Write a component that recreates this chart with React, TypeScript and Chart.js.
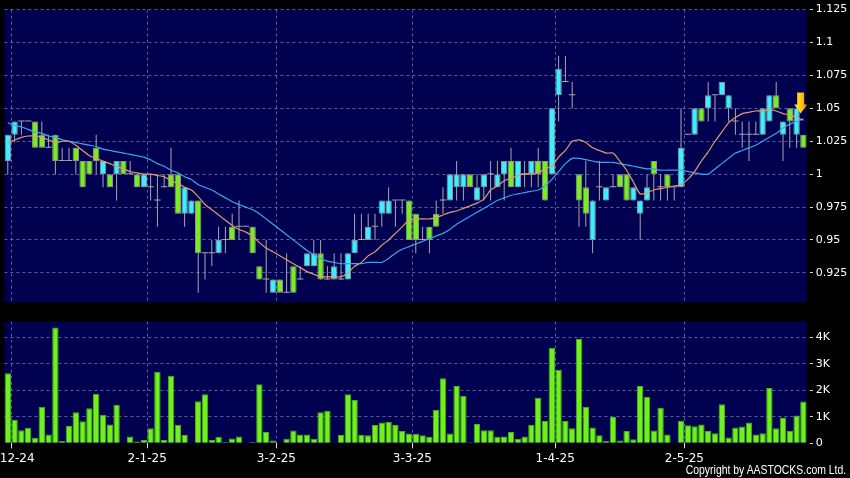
import React, { useEffect, useRef } from 'react';
import { Chart, registerables } from 'chart.js';

Chart.register(...registerables);

// ---------- data ----------
const dates = [
  '29-11-24',
  '2-12-24', '3-12-24', '4-12-24', '5-12-24', '6-12-24', '9-12-24', '10-12-24', '11-12-24', '12-12-24', '13-12-24',
  '16-12-24', '17-12-24', '18-12-24', '19-12-24', '20-12-24', '23-12-24', '24-12-24', '27-12-24', '30-12-24', '31-12-24',
  '2-1-25', '3-1-25', '6-1-25', '7-1-25', '8-1-25', '9-1-25', '10-1-25', '13-1-25', '14-1-25', '15-1-25',
  '16-1-25', '17-1-25', '20-1-25', '21-1-25', '22-1-25', '23-1-25', '24-1-25', '27-1-25', '28-1-25',
  '3-2-25', '4-2-25', '5-2-25', '6-2-25', '7-2-25', '10-2-25', '11-2-25', '12-2-25', '13-2-25', '14-2-25',
  '17-2-25', '18-2-25', '19-2-25', '20-2-25', '21-2-25', '24-2-25', '25-2-25', '26-2-25', '27-2-25', '28-2-25',
  '3-3-25', '4-3-25', '5-3-25', '6-3-25', '7-3-25', '10-3-25', '11-3-25', '12-3-25', '13-3-25', '14-3-25',
  '17-3-25', '18-3-25', '19-3-25', '20-3-25', '21-3-25', '24-3-25', '25-3-25', '26-3-25', '27-3-25', '28-3-25', '31-3-25',
  '1-4-25', '2-4-25', '3-4-25', '7-4-25', '8-4-25', '9-4-25', '10-4-25', '11-4-25', '14-4-25', '15-4-25',
  '16-4-25', '17-4-25', '22-4-25', '23-4-25', '24-4-25', '25-4-25', '28-4-25', '29-4-25', '30-4-25',
  '2-5-25', '6-5-25', '7-5-25', '8-5-25', '9-5-25', '12-5-25', '13-5-25', '14-5-25', '15-5-25', '16-5-25',
  '19-5-25', '20-5-25', '21-5-25', '22-5-25', '23-5-25', '26-5-25', '27-5-25', '28-5-25',
];

const opens = [
  1.01, 1.03, 1.04, 1.04, 1.04, 1.03, 1.02, 1.03, 1.01, 1.01,
  1.02, 1.01, 1.01, 1.02, 1.00, 1.00, 1.00, 1.01, 1.00, 1.00,
  0.99, 0.99, 0.98, 0.99, 1.00, 1.00, 0.97, 0.97, 0.98, 0.94,
  0.94, 0.94, 0.95, 0.96, 0.96, 0.96, 0.96, 0.93, 0.92, 0.91,
  0.92, 0.91, 0.93, 0.92, 0.93, 0.93, 0.94, 0.92, 0.92, 0.92,
  0.92, 0.94, 0.95, 0.95, 0.96, 0.97, 0.97, 0.98, 0.98, 0.98,
  0.97, 0.95, 0.96, 0.97, 0.98, 0.98, 0.99, 0.99, 1.00, 0.98,
  0.99, 1.00, 0.99, 1.00, 1.01, 0.99, 1.00, 1.00, 1.01, 1.01,
  1.00, 1.06, 1.07, 1.06, 1.00, 0.99, 0.95, 0.99, 0.98, 0.99,
  1.00, 1.00, 0.98, 0.97, 0.98, 1.01, 0.99, 1.00, 0.99, 0.99,
  1.03, 1.03, 1.05, 1.05, 1.06, 1.06, 1.05, 1.04, 1.03, 1.03,
  1.03, 1.03, 1.04, 1.06, 1.03, 1.05, 1.03, 1.03,
];

const highs = [
  1.03, 1.04, 1.04, 1.04, 1.04, 1.04, 1.03, 1.03, 1.02, 1.02,
  1.02, 1.01, 1.01, 1.03, 1.01, 1.00, 1.01, 1.01, 1.01, 1.00,
  1.00, 1.00, 1.00, 1.00, 1.02, 1.00, 0.99, 0.98, 0.98, 0.94,
  0.95, 0.96, 0.96, 0.97, 0.98, 0.96, 0.96, 0.93, 0.95, 0.92,
  0.92, 0.94, 0.93, 0.93, 0.94, 0.95, 0.95, 0.93, 0.94, 0.94,
  0.94, 0.97, 0.97, 0.97, 0.97, 0.98, 0.99, 0.98, 0.98, 0.98,
  0.97, 0.96, 0.96, 0.98, 0.99, 1.00, 1.01, 1.00, 1.00, 1.00,
  1.00, 1.01, 1.01, 1.01, 1.02, 1.01, 1.01, 1.01, 1.02, 1.01,
  1.05, 1.09, 1.09, 1.07, 1.00, 1.01, 0.98, 1.01, 0.99, 1.00,
  1.00, 1.00, 0.99, 0.98, 1.00, 1.01, 1.00, 1.00, 0.99, 1.05,
  1.03, 1.05, 1.05, 1.07, 1.06, 1.07, 1.06, 1.05, 1.04, 1.04,
  1.04, 1.05, 1.06, 1.07, 1.04, 1.05, 1.05, 1.03,
];

const lows = [
  1.00, 1.024, 1.03, 1.04, 1.02, 1.02, 1.02, 1.00, 1.01, 1.01,
  1.00, 0.99, 1.00, 1.00, 0.99, 0.99, 0.98, 1.00, 1.00, 0.99,
  0.99, 0.98, 0.96, 0.99, 0.99, 0.97, 0.96, 0.97, 0.91, 0.92,
  0.93, 0.94, 0.94, 0.95, 0.95, 0.96, 0.94, 0.92, 0.91, 0.91,
  0.91, 0.91, 0.91, 0.92, 0.93, 0.93, 0.92, 0.92, 0.92, 0.92,
  0.92, 0.94, 0.95, 0.95, 0.95, 0.96, 0.97, 0.96, 0.97, 0.95,
  0.94, 0.95, 0.94, 0.96, 0.97, 0.98, 0.98, 0.98, 0.99, 0.98,
  0.98, 0.98, 0.99, 0.98, 0.99, 0.99, 0.99, 0.99, 0.99, 0.98,
  1.00, 1.04, 1.07, 1.05, 0.96, 0.96, 0.94, 0.98, 0.98, 0.99,
  0.99, 0.98, 0.98, 0.95, 0.98, 0.98, 0.98, 0.98, 0.98, 0.99,
  1.03, 1.03, 1.04, 1.04, 1.04, 1.06, 1.04, 1.03, 1.02, 1.01,
  1.03, 1.03, 1.04, 1.05, 1.01, 1.02, 1.02, 1.02,
];

const closes = [
  1.03, 1.04, 1.04, 1.04, 1.02, 1.02, 1.02, 1.01, 1.01, 1.01,
  1.01, 0.99, 1.00, 1.01, 1.01, 0.99, 1.01, 1.00, 1.00, 0.99,
  1.00, 0.99, 0.98, 0.99, 0.99, 0.97, 0.99, 0.98, 0.94, 0.94,
  0.94, 0.95, 0.95, 0.95, 0.96, 0.96, 0.94, 0.92, 0.92, 0.92,
  0.91, 0.91, 0.91, 0.92, 0.94, 0.94, 0.92, 0.92, 0.93, 0.92,
  0.94, 0.95, 0.95, 0.96, 0.96, 0.98, 0.98, 0.98, 0.98, 0.95,
  0.95, 0.95, 0.95, 0.96, 0.98, 1.00, 1.00, 1.00, 0.99, 0.99,
  1.00, 1.00, 1.00, 1.01, 0.99, 1.01, 1.00, 1.01, 1.00, 0.98,
  1.05, 1.08, 1.07, 1.06, 0.98, 0.97, 0.98, 0.99, 0.99, 0.99,
  0.99, 0.98, 0.99, 0.98, 0.99, 1.00, 0.99, 0.99, 0.99, 1.02,
  1.03, 1.05, 1.04, 1.06, 1.06, 1.07, 1.06, 1.04, 1.03, 1.03,
  1.03, 1.05, 1.06, 1.05, 1.04, 1.04, 1.05, 1.02,
];

// short moving average (orange)
const maShort = [
  1.024, 1.026, 1.028, 1.029, 1.029, 1.028, 1.026, 1.024, 1.025, 1.025,
  1.022, 1.018, 1.014, 1.012, 1.010, 1.008, 1.006, 1.004, 1.002, 1.001,
  1.000, 1.000, 0.999, 0.998, 0.995, 0.993, 0.990, 0.988, 0.983, 0.977,
  0.973, 0.969, 0.965, 0.961, 0.958, 0.956, 0.953, 0.948, 0.944, 0.941,
  0.938, 0.935, 0.932, 0.929, 0.926, 0.924, 0.922, 0.922, 0.922, 0.922,
  0.925, 0.930, 0.933, 0.938, 0.941, 0.946, 0.950, 0.955, 0.960, 0.965,
  0.966, 0.966, 0.966, 0.967, 0.969, 0.971, 0.972, 0.974, 0.976, 0.978,
  0.981, 0.988, 0.991, 0.995, 0.997, 0.999, 1.000, 1.000, 1.001, 1.004,
  1.006, 1.013, 1.018, 1.025, 1.026, 1.024, 1.020, 1.018, 1.016, 1.016,
  1.010, 1.003, 0.994, 0.985, 0.986, 0.988, 0.989, 0.990, 0.991, 0.992,
  0.996, 1.002, 1.010, 1.017, 1.025, 1.032, 1.039, 1.043, 1.046, 1.047,
  1.048, 1.048, 1.049, 1.048, 1.046, 1.045, 1.043, 1.041,
];

// long moving average (blue)
const maLong = [
  1.039, 1.037, 1.036, 1.034, 1.032, 1.031, 1.029, 1.028, 1.026, 1.025,
  1.024, 1.023, 1.022, 1.021, 1.019, 1.018, 1.017, 1.016, 1.015, 1.014,
  1.013, 1.011, 1.008, 1.006, 1.003, 1.001, 0.998, 0.996, 0.992, 0.990,
  0.988, 0.985, 0.982, 0.979, 0.977, 0.975, 0.973, 0.970, 0.966, 0.962,
  0.958, 0.954, 0.950, 0.946, 0.942, 0.939, 0.936, 0.934, 0.933, 0.932,
  0.932, 0.932, 0.932, 0.933, 0.933, 0.933, 0.936, 0.940, 0.943, 0.945,
  0.947, 0.949, 0.951, 0.953, 0.955, 0.958, 0.962, 0.965, 0.968, 0.971,
  0.974, 0.977, 0.980, 0.982, 0.984, 0.985, 0.986, 0.987, 0.988, 0.991,
  0.996, 1.002, 1.008, 1.012, 1.012, 1.011, 1.010, 1.009, 1.009, 1.009,
  1.008, 1.007, 1.006, 1.005, 1.004, 1.004, 1.003, 1.003, 1.003, 1.003,
  1.002, 1.001, 1.000, 1.000, 1.004, 1.008, 1.012, 1.016, 1.018, 1.020,
  1.022, 1.025, 1.028, 1.031, 1.035, 1.038, 1.040, 1.042,
];

const volumes = [
  2640, 890, 490, 590, 210, 1380, 330, 4370, 90, 650,
  1170, 830, 1320, 1870, 1080, 710, 1450, 20, 260, 70,
  120, 570, 2700, 120, 2550, 700, 310, 20, 1590, 1850,
  120, 250, 50, 180, 260, 0, 50, 2230, 430, 110,
  20, 170, 480, 330, 330, 170, 1170, 1230, 20, 310,
  1850, 1630, 320, 300, 690, 780, 800, 700, 460, 370,
  360, 300, 250, 1260, 2450, 370, 2160, 1790, 40, 730,
  490, 490, 250, 260, 430, 160, 260, 700, 1720, 840,
  3600, 2770, 840, 570, 3930, 1370, 600, 300, 90, 990,
  110, 460, 150, 2160, 1760, 480, 1340, 330, 0, 850,
  680, 640, 710, 460, 380, 1470, 220, 600, 630, 780,
  330, 380, 2090, 570, 970, 460, 1050, 1580,
];

const axisDates = ['2-12-24', '2-1-25', '3-2-25', '3-3-25', '1-4-25', '2-5-25'];
const priceTicks = [0.925, 0.95, 0.975, 1, 1.025, 1.05, 1.075, 1.1, 1.125];
const priceTickLabels = ['0.925', '0.95', '0.975', '1', '1.025', '1.05', '1.075', '1.1', '1.125'];
const priceRange = [0.9026, 1.125];
const volumeTicks = [0, 1000, 2000, 3000, 4000];
const volumeTickLabels = ['0', '1K', '2K', '3K', '4K'];
const volumeRange = [0, 4590];
const signalIndex = [116.6];
const signalPrice = [1.046];

// ---------- styles ----------
const NAVY = '#000050';
const GRID = 'rgba(125,125,185,0.75)';
const CYAN = '#3cefff';
const GREEN = '#78ee1e';
const CANDLE_BORDER = '#929292';
const WICK = '#a8a8a8';
const ORANGE = '#e59a6c';
const BLUE = '#3aa6ee';
const VOL_FILL = '#6ff21c';
const VOL_BORDER = '#4aac16';
const FONT = '"DejaVu Sans", "Liberation Sans", sans-serif';
const W = 850;
const PRICE_H = 312;
const VOL_TOP = 312;
const VOL_H = 166;

const bgPlugin = {
  id: 'navyBg',
  beforeDraw(chart: any) {
    const { ctx, chartArea: a } = chart;
    ctx.save();
    ctx.fillStyle = NAVY;
    ctx.fillRect(a.left, a.top, a.right - a.left, a.bottom - a.top);
    ctx.restore();
  },
};

const arrowPlugin = {
  id: 'signalArrow',
  afterDatasetsDraw(chart: any) {
    const { ctx } = chart;
    const x = chart.scales.x.getPixelForValue(signalIndex[0]);
    const tip = chart.scales.y.getPixelForValue(signalPrice[0]);
    const shaftW = 7;
    const headW = 13;
    const headH = 9;
    const total = 21;
    const top = tip - total;
    const neck = tip - headH;
    ctx.save();
    const g = ctx.createLinearGradient(x - headW / 2, 0, x + headW / 2, 0);
    g.addColorStop(0, '#ffe65a');
    g.addColorStop(0.5, '#ffcc10');
    g.addColorStop(1, '#e88f00');
    ctx.fillStyle = g;
    ctx.beginPath();
    ctx.moveTo(x - shaftW / 2, top);
    ctx.lineTo(x + shaftW / 2, top);
    ctx.lineTo(x + shaftW / 2, neck);
    ctx.lineTo(x + headW / 2, neck);
    ctx.lineTo(x, tip);
    ctx.lineTo(x - headW / 2, neck);
    ctx.lineTo(x - shaftW / 2, neck);
    ctx.closePath();
    ctx.fill();
    ctx.restore();
  },
};

export default function App() {
  const priceRef = useRef<HTMLCanvasElement>(null);
  const volRef = useRef<HTMLCanvasElement>(null);

  useEffect(() => {
    Chart.defaults.font.family = FONT;
    const labelSet = new Set(axisDates);
    const isLabeled = (i: number) => i >= 0 && i < dates.length && labelSet.has(dates[i]);
    const dir = dates.map((_, i) => (closes[i] > opens[i] ? 1 : closes[i] < opens[i] ? -1 : 0));
    const bodies = dates.map((_, i) => [opens[i], closes[i]]);
    const wicks = dates.map((_, i) => [lows[i], highs[i]]);
    const xGridColor = (ctx: any) => (isLabeled(ctx.index) ? GRID : 'rgba(0,0,0,0)');

    const price = new Chart(priceRef.current as HTMLCanvasElement, {
      type: 'bar',
      data: {
        labels: dates,
        datasets: [
          {
            type: 'bar',
            data: wicks as any,
            backgroundColor: WICK,
            borderWidth: 0,
            barThickness: 1,
            maxBarThickness: 1,
            grouped: false,
            inflateAmount: 0,
            order: 3,
          },
          {
            type: 'bar',
            data: bodies as any,
            backgroundColor: (c: any) => (dir[c.dataIndex] > 0 ? CYAN : dir[c.dataIndex] < 0 ? GREEN : WICK),
            borderColor: CANDLE_BORDER,
            borderWidth: (c: any) => (dir[c.dataIndex] === 0 ? 0 : 1),
            borderSkipped: false,
            barThickness: 6.4,
            maxBarThickness: 6.4,
            minBarLength: 1,
            grouped: false,
            inflateAmount: 0,
            order: 2,
          },
          {
            type: 'line',
            data: maLong,
            borderColor: BLUE,
            borderWidth: 1.2,
            pointRadius: 0,
            tension: 0.2,
            order: 1,
          },
          {
            type: 'line',
            data: maShort,
            borderColor: ORANGE,
            borderWidth: 1.2,
            pointRadius: 0,
            tension: 0.2,
            order: 0,
          },
        ] as any,
      },
      options: {
        animation: false,
        responsive: false,
        maintainAspectRatio: false,
        events: [],
        layout: { padding: { left: 4.4, top: 7, bottom: 7, right: 0 } },
        plugins: { legend: { display: false }, tooltip: { enabled: false } },
        scales: {
          x: {
            type: 'category',
            offset: true,
            grid: { offset: true, color: xGridColor, drawTicks: false, lineWidth: 1 },
            border: { display: false, dash: [3, 3] },
            ticks: { display: false, autoSkip: false },
            afterFit: (s: any) => {
              s.height = 0;
            },
          },
          y: {
            position: 'right',
            min: priceRange[0],
            max: priceRange[1],
            afterBuildTicks: (s: any) => {
              s.ticks = priceTicks.map((v) => ({ value: v }));
            },
            grid: {
              color: GRID,
              tickColor: '#e0e0e0',
              tickLength: 6,
              tickBorderDash: [0, 3, 3, 60],
              lineWidth: 1,
            },
            border: { display: false, dash: [3, 3] },
            ticks: {
              color: '#ffffff',
              padding: 3,
              font: { size: 11, family: FONT },
              callback: (_v: any, i: number) => priceTickLabels[i],
            },
            afterFit: (s: any) => {
              s.width = W - 806.8;
            },
          },
        },
      } as any,
      plugins: [bgPlugin, arrowPlugin],
    });

    const vol = new Chart(volRef.current as HTMLCanvasElement, {
      type: 'bar',
      data: {
        labels: dates,
        datasets: [
          {
            data: volumes,
            backgroundColor: VOL_FILL,
            borderColor: VOL_BORDER,
            borderWidth: 1,
            borderSkipped: 'start',
            barThickness: 6.4,
            maxBarThickness: 6.4,
            inflateAmount: 0,
          },
        ],
      },
      options: {
        animation: false,
        responsive: false,
        maintainAspectRatio: false,
        events: [],
        layout: { padding: { left: 4.4, top: 7, bottom: 0, right: 0 } },
        plugins: { legend: { display: false }, tooltip: { enabled: false } },
        scales: {
          x: {
            type: 'category',
            offset: true,
            grid: {
              offset: true,
              color: xGridColor,
              tickColor: (ctx: any) => (isLabeled(ctx.index) ? '#e0e0e0' : 'rgba(0,0,0,0)'),
              tickLength: 5,
              lineWidth: 1,
            },
            border: { display: false, dash: [3, 3] },
            ticks: {
              autoSkip: false,
              maxRotation: 0,
              minRotation: 0,
              padding: 3,
              labelOffset: -3.4,
              color: '#ffffff',
              font: { size: 12, family: FONT },
              callback: (_v: any, i: number) => (isLabeled(i) ? dates[i] : ''),
            },
            afterFit: (s: any) => {
              s.height = VOL_H - 131.3;
            },
          },
          y: {
            position: 'right',
            min: volumeRange[0],
            max: volumeRange[1],
            afterBuildTicks: (s: any) => {
              s.ticks = volumeTicks.map((v) => ({ value: v }));
            },
            grid: {
              color: (ctx: any) => (ctx.tick && ctx.tick.value === 0 ? 'rgba(0,0,0,0)' : GRID),
              tickColor: '#e0e0e0',
              tickLength: 6,
              tickBorderDash: [0, 3, 3, 60],
              lineWidth: 1,
            },
            border: { display: false, dash: [3, 3] },
            ticks: {
              color: '#ffffff',
              padding: 3,
              font: { size: 11, family: FONT },
              callback: (_v: any, i: number) => volumeTickLabels[i],
            },
            afterFit: (s: any) => {
              s.width = W - 806.8;
            },
          },
        },
      } as any,
      plugins: [bgPlugin],
    });

    return () => {
      price.destroy();
      vol.destroy();
    };
  }, []);

  return (
    <div
      style={{
        position: 'absolute',
        left: 0,
        top: 0,
        width: W,
        height: 478,
        background: '#000000',
        overflow: 'hidden',
      }}
    >
      <canvas
        ref={priceRef}
        width={W}
        height={PRICE_H}
        style={{ position: 'absolute', left: 0, top: 0, width: W, height: PRICE_H }}
      />
      <canvas
        ref={volRef}
        width={W}
        height={VOL_H}
        style={{ position: 'absolute', left: 0, top: VOL_TOP, width: W, height: VOL_H }}
      />
      <div
        style={{
          position: 'absolute',
          right: 4,
          top: 463,
          color: '#ffffff',
          fontFamily: '"Liberation Sans", sans-serif',
          fontSize: 12.5,
          lineHeight: '14px',
          whiteSpace: 'nowrap',
          transform: 'scaleX(0.835)',
          transformOrigin: 'right center',
        }}
      >
        Copyright by AASTOCKS.com Ltd.
      </div>
    </div>
  );
}
